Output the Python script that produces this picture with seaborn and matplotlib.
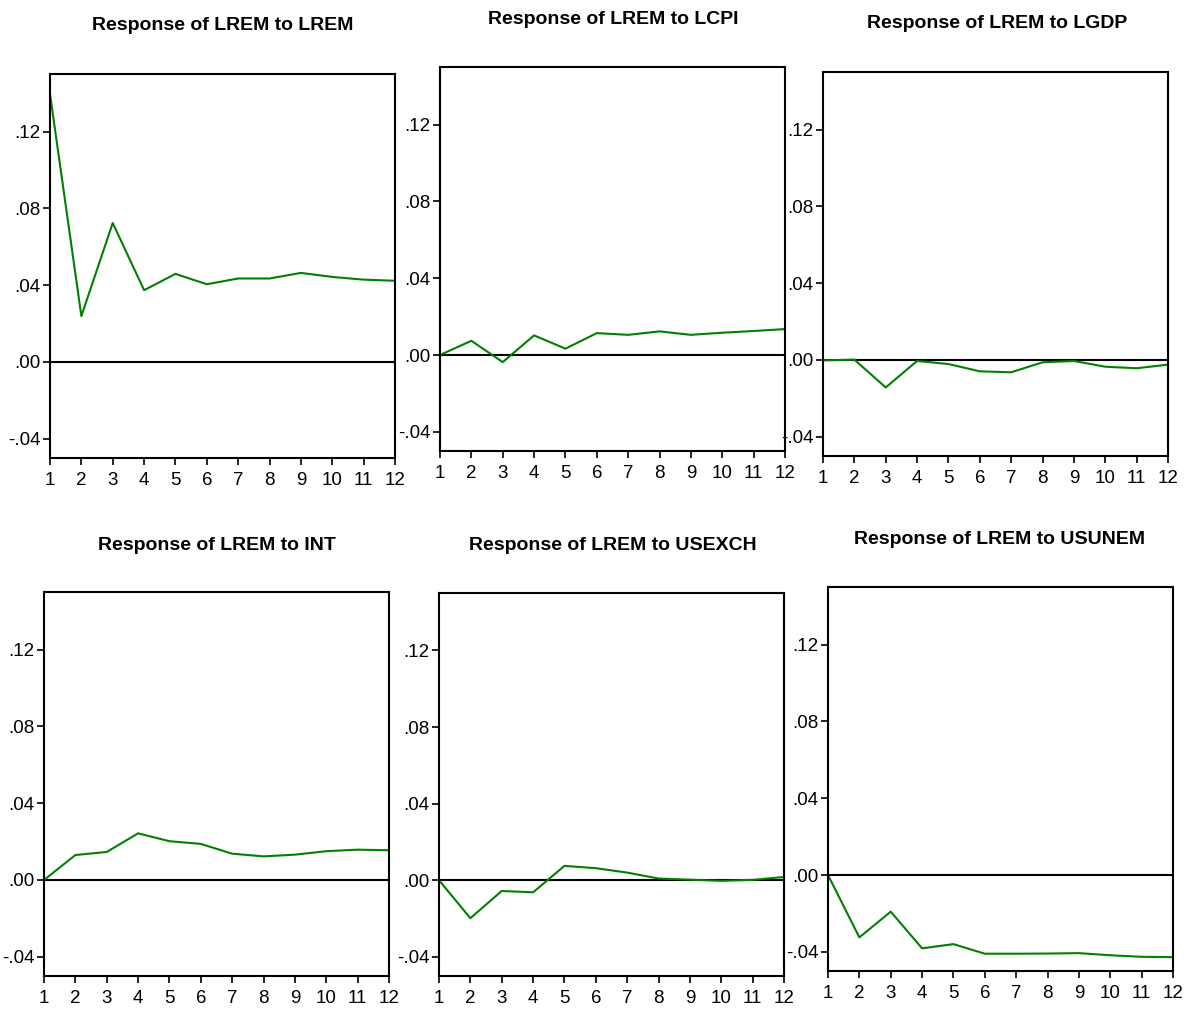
import numpy as np
import pandas as pd
import matplotlib
matplotlib.use("Agg")
import matplotlib.pyplot as plt
import seaborn as sns

# impulse responses (periods 1..12)
periods = list(range(1, 13))
titles = ["Response of LREM to LREM", "Response of LREM to LCPI", "Response of LREM to LGDP",
          "Response of LREM to INT", "Response of LREM to USEXCH", "Response of LREM to USUNEM"]
lrem = [0.1396, 0.0239, 0.0724, 0.0374, 0.0459, 0.0405, 0.0435, 0.0435, 0.0464, 0.0443, 0.0429, 0.0423]
lcpi = [0.0, 0.0074, -0.0037, 0.0102, 0.0033, 0.0114, 0.0105, 0.0123, 0.0105, 0.0116, 0.0125, 0.0135]
lgdp = [-0.0002, 0.0002, -0.0143, -0.0005, -0.0021, -0.0059, -0.0064, -0.0012, -0.0005, -0.0035, -0.0043, -0.0024]
intr = [0.0, 0.0130, 0.0146, 0.0243, 0.0202, 0.0188, 0.0137, 0.0123, 0.0132, 0.0150, 0.0158, 0.0155]
usexch = [0.0, -0.0198, -0.0056, -0.0063, 0.0075, 0.0063, 0.0040, 0.0009, 0.0003, -0.0003, 0.0002, 0.0017]
usunem = [0.0, -0.0325, -0.0191, -0.0382, -0.0360, -0.0410, -0.0410, -0.0409, -0.0407, -0.0418, -0.0426, -0.0428]
series = [lrem, lcpi, lgdp, intr, usexch, usunem]
yticks = [-0.04, 0.0, 0.04, 0.08, 0.12]
ytick_labels = ["-.04", ".00", ".04", ".08", ".12"]

sns.set_style("white")
plt.rcParams["font.family"] = ["Liberation Sans Narrow", "Liberation Sans", "DejaVu Sans"]
plt.rcParams["text.color"] = "black"

W, H = 1187, 1011
fig = plt.figure(figsize=(W / 100, H / 100), dpi=100)

# box corners in pixels (left, top, right, bottom) and title centre (x, y)
boxes = [(50, 74, 395, 458), (440, 67, 785, 451), (823, 72, 1168, 456),
         (44, 592, 389, 976), (439, 593, 784, 976), (828, 587, 1173, 971)]
title_pos = [(223, 25), (613, 19), (997, 24), (217, 545), (613, 545), (1000, 540)]

for i in range(6):
    l, t, r, b = boxes[i]
    ax = fig.add_axes([l / W, 1 - b / H, (r - l) / W, (b - t) / H])
    df = pd.DataFrame({"period": periods, "resp": series[i]})
    ax.axhline(0, color="black", lw=1.5, zorder=1)
    sns.lineplot(data=df, x="period", y="resp", ax=ax, color="#008000", lw=1.5, zorder=2)
    ax.set_xlim(1, 12)
    ax.set_ylim(-0.05, 0.15)
    ax.set_xticks(periods)
    ax.set_xticklabels([str(p) for p in periods])
    ax.set_yticks(yticks)
    ax.set_yticklabels(ytick_labels)
    ax.set_xlabel("")
    ax.set_ylabel("")
    ax.tick_params(axis="both", direction="out", length=5, width=1.2, colors="black",
                   labelsize=13.5, bottom=True, left=True)
    ax.tick_params(axis="x", pad=5)
    ax.tick_params(axis="y", pad=2)
    for s in ax.spines.values():
        s.set_color("black")
        s.set_linewidth(1.5)
    tx, ty = title_pos[i]
    fig.text(tx / W, 1 - ty / H, titles[i], ha="center", va="center",
             fontsize=14, fontweight="bold", color="black")

fig.savefig("out.png", dpi=100, facecolor="white")
